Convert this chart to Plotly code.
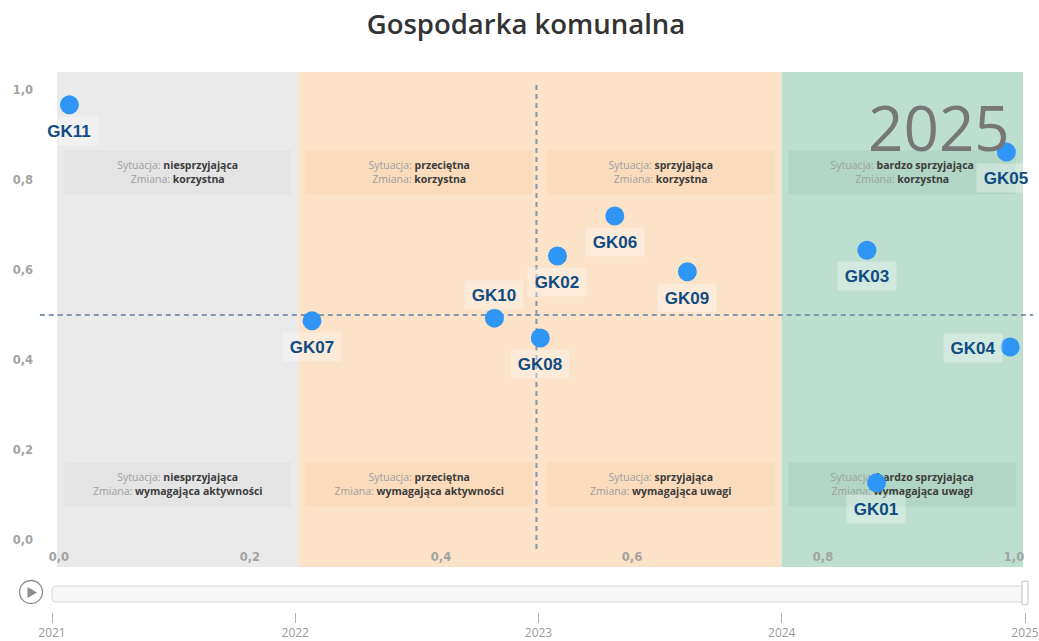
import plotly.graph_objects as go

# ---- data -----------------------------------------------------------------
codes = ["GK01", "GK02", "GK03", "GK04", "GK05", "GK06",
         "GK07", "GK08", "GK09", "GK10", "GK11"]
sytuacja = [0.856, 0.522, 0.846, 0.996, 0.992, 0.582,
            0.265, 0.504, 0.658, 0.456, 0.011]
zmiana = [0.127, 0.631, 0.644, 0.429, 0.862, 0.720,
          0.487, 0.449, 0.596, 0.493, 0.967]

years = [2021, 2022, 2023, 2024, 2025]
current_year = 2025

situation_names = ["niesprzyjająca", "przeciętna", "sprzyjająca", "bardzo sprzyjająca"]
change_top = ["korzystna", "korzystna", "korzystna", "korzystna"]
change_bottom = ["wymagająca aktywności", "wymagająca aktywności",
                 "wymagająca uwagi", "wymagająca uwagi"]

threshold = 0.5
tick_values = [0.0, 0.2, 0.4, 0.6, 0.8, 1.0]

# ---- layout helpers -------------------------------------------------------
W, H = 1039, 641


def fx(p):
    return p / W


def fy(p):
    return 1 - p / H


X_RANGE = [-0.002, 1.0094]
Y_RANGE = [-0.06, 1.04]
PLOT_L, PLOT_R, PLOT_T, PLOT_B = 57, 1023, 72, 567
PLOT_W = PLOT_R - PLOT_L
Y_PX_PER_UNIT = (PLOT_B - PLOT_T) / (Y_RANGE[1] - Y_RANGE[0])


def x_to_domain(v):
    return (v - X_RANGE[0]) / (X_RANGE[1] - X_RANGE[0])


band_colors = ["#eaeaea", "#fce2c7", "#fce2c7", "#bddfcf"]
box_colors = ["rgba(0,0,0,0.025)", "rgba(245,195,145,0.22)",
              "rgba(245,195,145,0.22)", "rgba(90,160,130,0.12)"]

label_side = {"GK04": "left", "GK10": "above"}

fig = go.Figure()

fig.add_trace(go.Scatter(
    x=sytuacja, y=zmiana, mode="markers",
    marker=dict(size=19, color="#3096f6", line=dict(width=0)),
    text=codes, hoverinfo="text", showlegend=False,
    cliponaxis=False,
))

# invisible trace keeping the timeline axis alive
fig.add_trace(go.Scatter(
    x=years, y=[0.5] * len(years), xaxis="x2", yaxis="y2", mode="markers",
    marker=dict(opacity=0), hoverinfo="skip", showlegend=False,
))

shapes = []

# background bands (quarters of the plot area)
band_edges = [0.0, 0.25, 0.5, 0.75, 1.0]
for i in range(4):
    shapes.append(dict(
        type="rect", xref="x domain", yref="y domain",
        x0=band_edges[i], x1=band_edges[i + 1], y0=0, y1=1,
        fillcolor=band_colors[i], line=dict(width=0), layer="below",
    ))

# quadrant description boxes
box_half_w = 113.5 / PLOT_W
box_half_h = 22 / Y_PX_PER_UNIT
row_centers = [0.817, 0.124]
for i in range(4):
    cx = (band_edges[i] + band_edges[i + 1]) / 2
    for r, cy in enumerate(row_centers):
        change = change_top[i] if r == 0 else change_bottom[i]
        txt = ("<span style='color:#a0a0a0'>Sytuacja: </span>"
               f"<b>{situation_names[i]}</b><br>"
               "<span style='color:#a0a0a0'>Zmiana: </span>"
               f"<b>{change}</b>")
        shapes.append(dict(
            type="rect", xref="x domain", yref="y",
            x0=cx - box_half_w, x1=cx + box_half_w,
            y0=cy - box_half_h, y1=cy + box_half_h,
            fillcolor=box_colors[i], line=dict(width=0), layer="below",
            label=dict(text=txt, textposition="middle center",
                       font=dict(family="Open Sans", size=10.5, color="#3c3c3c")),
        ))

# threshold lines
dash_style = dict(color="#8597ae", width=2, dash="5px,4px")
shapes.append(dict(
    type="line", xref="x", yref="y", x0=threshold, x1=threshold,
    y0=-0.02, y1=1.02, line=dash_style, layer="below",
))
shapes.append(dict(
    type="line", xref="x domain", yref="y",
    x0=x_to_domain(-0.02), x1=x_to_domain(1.02),
    y0=threshold, y1=threshold, line=dash_style, layer="below",
))

# timeline rail
T_PX = (1025 - 52) / (years[-1] - years[0])
rx = 4 / T_PX
ry = 4 / 16
x0, x1 = years[0], years[-1]
rail_path = (f"M {x0 + rx},0 L {x1 - rx},0 Q {x1},0 {x1},{ry} "
             f"L {x1},{1 - ry} Q {x1},1 {x1 - rx},1 L {x0 + rx},1 "
             f"Q {x0},1 {x0},{1 - ry} L {x0},{ry} Q {x0},0 {x0 + rx},0 Z")
shapes.append(dict(
    type="path", xref="x2", yref="y2", path=rail_path,
    fillcolor="#f7f7f7", line=dict(color="#d6d6d6", width=1),
))
hx = 3 / T_PX
shapes.append(dict(
    type="rect", xref="x2", yref="y2",
    x0=current_year - hx, x1=current_year + hx, y0=-0.15, y1=1.3,
    fillcolor="#ffffff", line=dict(color="#c4c4c4", width=1),
))

# play button
shapes.append(dict(
    type="circle", xref="paper", yref="paper",
    x0=fx(19.5), x1=fx(42.5), y0=fy(603.5), y1=fy(580.5),
    fillcolor="rgba(0,0,0,0)", line=dict(color="#8c8c8c", width=1.3),
))
shapes.append(dict(
    type="path", xref="paper", yref="paper",
    path=(f"M {fx(27.5)},{fy(587)} L {fx(27.5)},{fy(598)} "
          f"L {fx(37)},{fy(592.5)} Z"),
    fillcolor="#8c8c8c", line=dict(width=0),
))

annotations = []
for code, xv, yv in zip(codes, sytuacja, zmiana):
    side = label_side.get(code, "below")
    xs, ys = 0, -26
    if side == "above":
        ys = 23
    elif side == "left":
        xs, ys = -37, -1
    annotations.append(dict(
        x=xv, y=yv, xref="x", yref="y", text=f"<b>{code}</b>",
        showarrow=False, xshift=xs, yshift=ys,
        width=58, height=28, borderpad=0,
        bgcolor="rgba(255,255,255,0.33)",
        font=dict(family="Arial", size=17, color="#104b82"),
    ))

annotations.append(dict(
    text=str(current_year), xref="paper", yref="paper",
    x=fx(1012), y=fy(127), xanchor="right", yanchor="middle",
    showarrow=False,
    font=dict(family="Open Sans", size=62, color="#777777"),
))

axis_font = dict(family="DejaVu Sans", size=11.5, color="#a3a3a3", weight="bold")

fig.update_layout(
    width=W, height=H,
    margin=dict(l=0, r=0, t=0, b=0),
    paper_bgcolor="white", plot_bgcolor="white",
    separators=",.",
    title=dict(
        text="Gospodarka komunalna", xref="container", yref="container",
        x=fx(526), y=fy(24), xanchor="center", yanchor="middle",
        font=dict(family="Open Sans", size=27.5, color="#333333", weight=600),
    ),
    xaxis=dict(
        domain=[fx(PLOT_L), fx(PLOT_R)], range=X_RANGE,
        tickvals=tick_values, tickformat=".1f",
        ticklabelposition="outside", ticklabelstandoff=-19, ticks="",
        showgrid=False, zeroline=False, showline=False,
        tickfont=axis_font, automargin=False, fixedrange=True,
    ),
    yaxis=dict(
        domain=[fy(PLOT_B), fy(PLOT_T)], range=Y_RANGE,
        tickvals=tick_values, tickformat=".1f", ticks="",
        ticklabelstandoff=23,
        showgrid=False, zeroline=False, showline=False,
        tickfont=axis_font, automargin=False, fixedrange=True,
    ),
    xaxis2=dict(
        domain=[fx(45), fx(1032)],
        range=[years[0] - 7 / T_PX, years[-1] + 7 / T_PX],
        anchor="free", position=fy(612),
        tickvals=years, ticktext=[str(y) for y in years],
        ticks="outside", ticklen=10, tickwidth=1, tickcolor="#b0b0b0",
        showgrid=False, zeroline=False, showline=False,
        tickfont=dict(family="Open Sans", size=12, color="#9a9a9a"),
        automargin=False, fixedrange=True,
    ),
    yaxis2=dict(
        domain=[fy(606), fy(580)],
        range=[-(606 - 602) / 16, 1 + (586 - 580) / 16],
        anchor="x2", visible=False, fixedrange=True,
    ),
    shapes=shapes,
    annotations=annotations,
    hovermode="closest",
)

fig.write_html("out.html")
